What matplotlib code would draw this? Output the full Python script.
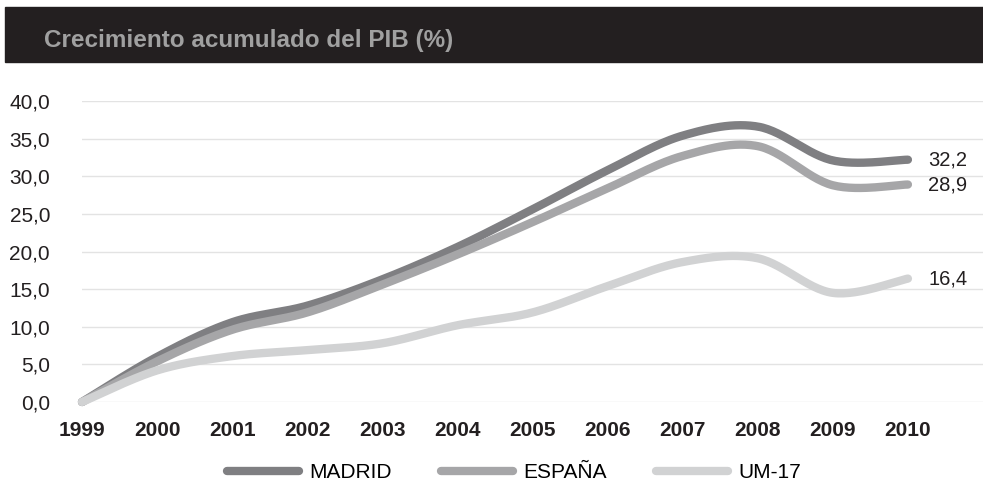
import numpy as np
import matplotlib.pyplot as plt
from matplotlib.patches import Rectangle

years = [1999, 2000, 2001, 2002, 2003, 2004, 2005, 2006, 2007, 2008, 2009, 2010]
madrid = [0.0, 6.0, 10.6, 12.8, 16.3, 20.6, 25.6, 30.8, 35.4, 36.6, 32.1, 32.2]
espana = [0.0, 5.4, 9.6, 11.9, 15.6, 19.6, 23.9, 28.4, 32.7, 34.0, 28.8, 28.9]
um17 = [0.0, 4.2, 6.1, 6.9, 7.8, 10.2, 11.9, 15.4, 18.6, 19.1, 14.5, 16.4]
series_names = ["MADRID", "ESPAÑA", "UM-17"]
colores = ["#7f7f82", "#a6a6a8", "#d1d2d3"]
yticks = [0, 5, 10, 15, 20, 25, 30, 35, 40]

plt.rcParams['font.family'] = ['Liberation Sans', 'DejaVu Sans']


def catmull(x, y, n=30):
    # curva suavizada tipo Excel
    x = np.asarray(x, float)
    y = np.asarray(y, float)
    px = np.concatenate([[x[0]], x, [x[-1]]])
    py = np.concatenate([[y[0]], y, [y[-1]]])
    xs, ys = [], []
    for i in range(1, len(px) - 2):
        t = np.linspace(0, 1, n, endpoint=False)
        for arr, out in ((px, xs), (py, ys)):
            p0, p1, p2, p3 = arr[i - 1], arr[i], arr[i + 1], arr[i + 2]
            out.extend(0.5 * (2 * p1 + (-p0 + p2) * t
                              + (2 * p0 - 5 * p1 + 4 * p2 - p3) * t ** 2
                              + (-p0 + 3 * p1 - 3 * p2 + p3) * t ** 3))
    xs.append(x[-1])
    ys.append(y[-1])
    return np.array(xs), np.array(ys)


fig = plt.figure(figsize=(9.83, 4.87), dpi=100)

# barra del titulo
fig.patches.append(Rectangle((5 / 983, 1 - 62 / 487), 978 / 983, 55 / 487,
                             transform=fig.transFigure, color="#231f20", zorder=0))
fig.text(44 / 983, 1 - 40 / 487, "Crecimiento acumulado del PIB (%)", color="#a0a0a0",
         fontsize=17.5, fontweight="bold", va="center", ha="left")

ax = fig.add_axes([82 / 983, 85 / 487, 901 / 983, 301 / 487])
ax.set_xlim(1999, 2011)
ax.set_ylim(0, 40)

for vals, name, c in zip([madrid, espana, um17], series_names, colores):
    xs, ys = catmull(years, vals)
    ax.plot(xs, ys, color=c, lw=6, solid_capstyle="round", label=name, clip_on=False, zorder=3)
    ax.text(years[-1] + 0.27, vals[-1], f"{vals[-1]:.1f}".replace(".", ","),
            fontsize=14.5, color="#231f20", va="center", ha="left")

ax.set_yticks(yticks)
ax.set_yticklabels([f"{v:.1f}".replace(".", ",") for v in yticks], fontsize=15, color="#231f20")
ax.set_xticks(years)
ax.set_xticklabels([str(y) for y in years], fontsize=15, fontweight="bold", color="#231f20")
ax.tick_params(axis="y", length=0, pad=23)
ax.tick_params(axis="x", length=0, pad=14)
ax.grid(axis="y", color="#e3e3e3", lw=1)
ax.set_axisbelow(True)
for s in ax.spines.values():
    s.set_visible(False)

fig.legend(loc="center", bbox_to_anchor=(514 / 983, 1 - 473 / 487), ncol=3, frameon=False,
           fontsize=15, handlelength=3.45, columnspacing=2.35, handletextpad=0.5)

fig.savefig("out.png", dpi=100)
